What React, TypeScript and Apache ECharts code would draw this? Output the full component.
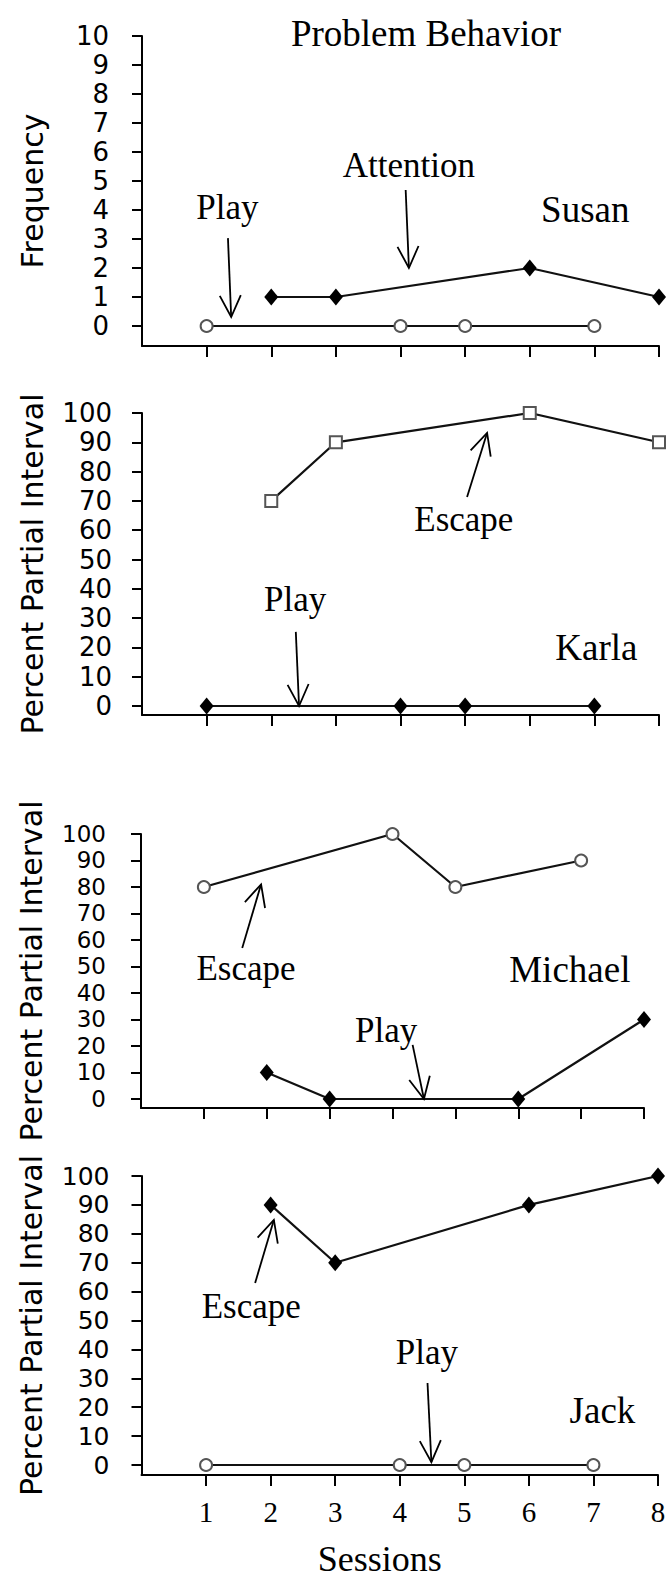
import React, { useEffect, useRef } from 'react';
import * as echarts from 'echarts';

// ---- data ----
const sessions = [1, 2, 3, 4, 5, 6, 7, 8];
const frequencyTicks = [0, 1, 2, 3, 4, 5, 6, 7, 8, 9, 10];
const percentTicks = [0, 10, 20, 30, 40, 50, 60, 70, 80, 90, 100];

const susanPlaySessions = [1, 4, 5, 7];
const susanPlay = [0, 0, 0, 0];
const susanAttentionSessions = [2, 3, 6, 8];
const susanAttention = [1, 1, 2, 1];

const karlaEscapeSessions = [2, 3, 6, 8];
const karlaEscape = [70, 90, 100, 90];
const karlaPlaySessions = [1, 4, 5, 7];
const karlaPlay = [0, 0, 0, 0];

const michaelEscapeSessions = [1, 4, 5, 7];
const michaelEscape = [80, 100, 80, 90];
const michaelPlaySessions = [2, 3, 6, 8];
const michaelPlay = [10, 0, 0, 30];

const jackEscapeSessions = [2, 3, 6, 8];
const jackEscape = [90, 70, 90, 100];
const jackPlaySessions = [1, 4, 5, 7];
const jackPlay = [0, 0, 0, 0];

const panelNames = ['Susan', 'Karla', 'Michael', 'Jack'];
const panelNamePos = [[6.86, 4.03], [7.03, 19.8], [6.82, 48.7], [7.14, 18.7]];

// annotation labels (data coordinates of each panel)
const annotationTexts = [
  { panel: 0, text: 'Play', at: [1.32, 4.07] },
  { panel: 0, text: 'Attention', at: [4.13, 5.55] },
  { panel: 1, text: 'Escape', at: [4.98, 63.8] },
  { panel: 1, text: 'Play', at: [2.37, 36.2] },
  { panel: 2, text: 'Escape', at: [1.67, 49.4] },
  { panel: 2, text: 'Play', at: [3.9, 26] },
  { panel: 3, text: 'Escape', at: [1.7, 54.7] },
  { panel: 3, text: 'Play', at: [4.42, 38.8] },
];
const annotationArrows = [
  { panel: 0, from: [1.33, 3.03], to: [1.38, 0.31] },
  { panel: 0, from: [4.08, 4.69], to: [4.13, 2.0] },
  { panel: 1, from: [5.03, 71.3], to: [5.34, 93.2] },
  { panel: 1, from: [2.38, 25.3], to: [2.43, 0] },
  { panel: 2, from: [1.61, 57], to: [1.91, 81] },
  { panel: 2, from: [4.32, 20.4], to: [4.5, 0] },
  { panel: 3, from: [1.76, 63], to: [2.05, 84.8] },
  { panel: 3, from: [4.43, 28.4], to: [4.49, 1] },
];
const sessionsTitlePos = [3.69, -32.6];

// ---- layout / styles ----
const grids = [
  { left: 142, top: 36, width: 517, height: 310 },
  { left: 142, top: 413, width: 517, height: 302 },
  { left: 141, top: 834, width: 503, height: 274 },
  { left: 141.5, top: 1176, width: 516.5, height: 299 },
];
const yMins = [-0.69, -3.07, -3.4, -3.46];
const yMaxes = [10, 100, 100, 100];
const yNames = ['Frequency', 'Percent Partial Interval', 'Percent Partial Interval', 'Percent Partial Interval'];
const labelMargins = [33, 30, 35, 32];
const labelSizes = [26, 26, 23, 25];

const SERIF = 'Liberation Serif';
const SANS = 'DejaVu Sans';
const LINE = '#111';

const pts = (xs: number[], ys: number[]) => xs.map((x, i) => [x, ys[i]]);

const openStyle = (symbol: string) => ({
  symbol,
  symbolSize: 12,
  itemStyle: { color: '#fff', borderColor: '#555', borderWidth: 2 },
});
const filledStyle = () => ({
  symbol: 'diamond',
  symbolSize: [14, 17],
  itemStyle: { color: '#000', borderColor: '#000', borderWidth: 0 },
});

function lineSeries(panel: number, name: string, data: number[][], marker: any) {
  return {
    type: 'line',
    name,
    xAxisIndex: panel,
    yAxisIndex: panel,
    data,
    lineStyle: { color: LINE, width: 2.2 },
    ...marker,
    z: marker.itemStyle.color === '#fff' ? 4 : 3,
  };
}

export default function App() {
  const ref = useRef<HTMLDivElement>(null);
  useEffect(() => {
    document.body.style.margin = '0';
    if (!ref.current) return;
    const chart = echarts.init(ref.current, undefined, { renderer: 'svg' });

    const option: any = {
      animation: false,
      backgroundColor: '#fff',
      grid: grids.map((g) => ({ ...g, containLabel: false, outerBoundsMode: 'none' })),
      xAxis: grids.map((_, i) => ({
        type: 'value',
        gridIndex: i,
        min: 0,
        max: 8,
        interval: 1,
        axisLine: { onZero: false, lineStyle: { color: '#000', width: 2 } },
        axisTick: { show: true, length: 11, customValues: sessions, lineStyle: { color: '#000', width: 2 } },
        axisLabel: {
          show: i === 3,
          customValues: sessions,
          margin: 22,
          fontFamily: SERIF,
          fontSize: 29,
          color: '#000',
        },
        splitLine: { show: false },
      })),
      yAxis: grids.map((_, i) => ({
        type: 'value',
        gridIndex: i,
        min: yMins[i],
        max: yMaxes[i],
        name: yNames[i],
        nameLocation: 'middle',
        nameRotate: 90,
        nameGap: 95,
        nameTextStyle: { fontFamily: SANS, fontSize: 30, color: '#000' },
        axisLine: { onZero: false, lineStyle: { color: '#000', width: 2 } },
        axisTick: {
          show: true,
          length: 10,
          customValues: i === 0 ? frequencyTicks : percentTicks,
          lineStyle: { color: '#000', width: 2 },
        },
        axisLabel: {
          customValues: i === 0 ? frequencyTicks : percentTicks,
          margin: labelMargins[i],
          fontFamily: SANS,
          fontSize: labelSizes[i],
          color: '#000',
        },
        splitLine: { show: false },
      })),
      series: [
        lineSeries(0, 'Play', pts(susanPlaySessions, susanPlay), openStyle('circle')),
        lineSeries(0, 'Attention', pts(susanAttentionSessions, susanAttention), filledStyle()),
        lineSeries(1, 'Escape', pts(karlaEscapeSessions, karlaEscape), openStyle('rect')),
        lineSeries(1, 'Play', pts(karlaPlaySessions, karlaPlay), filledStyle()),
        lineSeries(2, 'Escape', pts(michaelEscapeSessions, michaelEscape), openStyle('circle')),
        lineSeries(2, 'Play', pts(michaelPlaySessions, michaelPlay), filledStyle()),
        lineSeries(3, 'Escape', pts(jackEscapeSessions, jackEscape), filledStyle()),
        lineSeries(3, 'Play', pts(jackPlaySessions, jackPlay), openStyle('circle')),
      ],
    };
    chart.setOption(option);

    const toPx = (panel: number, p: number[]) =>
      chart.convertToPixel({ gridIndex: panel } as any, p) as number[];

    const graphics: any[] = [];
    const addText = (text: string, x: number, y: number, size: number) => {
      graphics.push({
        type: 'text',
        x,
        y,
        z: 10,
        style: {
          text,
          fontFamily: SERIF,
          fontSize: size,
          fill: '#000',
          align: 'center',
          verticalAlign: 'middle',
        },
      });
    };

    addText('Problem Behavior', 426, 33, 37);
    panelNames.forEach((n, i) => {
      const [x, y] = toPx(i, panelNamePos[i]);
      addText(n, x, y, 37);
    });
    annotationTexts.forEach((a) => {
      const [x, y] = toPx(a.panel, a.at);
      addText(a.text, x, y, 35);
    });
    {
      const [x, y] = toPx(3, sessionsTitlePos);
      addText('Sessions', x, y, 36);
    }

    const HEAD = 24;
    const ANG = (26 * Math.PI) / 180;
    annotationArrows.forEach((a) => {
      const p0 = toPx(a.panel, a.from);
      const p1 = toPx(a.panel, a.to);
      const dx = p1[0] - p0[0];
      const dy = p1[1] - p0[1];
      const len = Math.hypot(dx, dy) || 1;
      const ux = dx / len;
      const uy = dy / len;
      const arm = (s: number) => {
        const c = Math.cos(s * ANG);
        const sn = Math.sin(s * ANG);
        const rx = ux * c - uy * sn;
        const ry = ux * sn + uy * c;
        return [p1[0] - HEAD * rx, p1[1] - HEAD * ry];
      };
      const l = arm(1);
      const r = arm(-1);
      const st = { stroke: '#000', lineWidth: 1.8 };
      graphics.push({ type: 'line', z: 10, shape: { x1: p0[0], y1: p0[1], x2: p1[0], y2: p1[1] }, style: st });
      graphics.push({ type: 'polyline', z: 10, shape: { points: [l, p1, r] }, style: { ...st, fill: 'none' } });
    });

    chart.setOption({ graphic: graphics });

    return () => chart.dispose();
  }, []);
  return <div ref={ref} style={{ width: 671, height: 1581 }} />;
}
